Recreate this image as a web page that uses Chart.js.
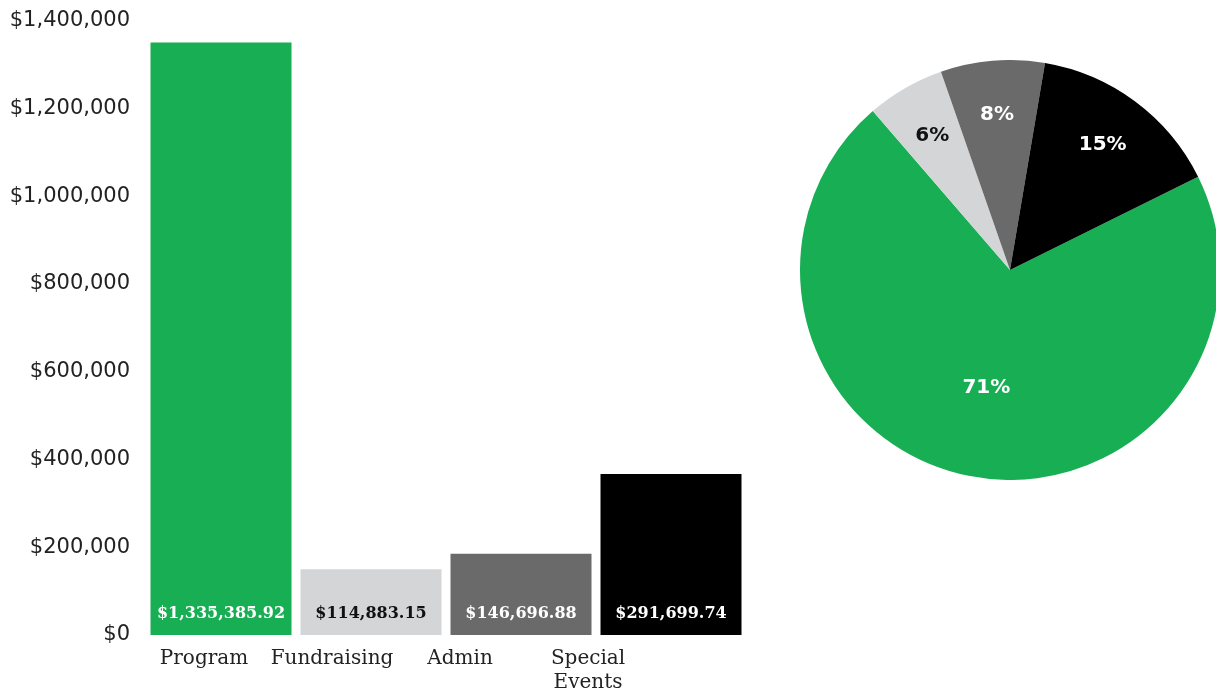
<!DOCTYPE html>
<html>
<head>
<meta charset="utf-8">
<title>Expenses</title>
<script src="https://cdn.jsdelivr.net/npm/chart.js@4/dist/chart.umd.min.js"></script>
<style>
  html, body {
    margin: 0;
    padding: 0;
    background: #ffffff;
    overflow: hidden;
  }
  .page {
    position: relative;
    width: 1216px;
    height: 696px;
  }
  #barBox {
    position: absolute;
    left: 0;
    top: 0;
    width: 748px;
    height: 696px;
  }
  #pieBox {
    position: absolute;
    left: 800px;
    top: 60px;
    width: 420px;
    height: 420px;
  }
</style>
</head>
<body>
<div class="page">
  <div id="barBox"><canvas id="barChart"></canvas></div>
  <div id="pieBox"><canvas id="pieChart"></canvas></div>
</div>

<script>
//Data for the charts
const categories = ["Program", "Fundraising", "Admin", ["Special", "Events"]];
const barHeights = [1350000, 150000, 185000, 367000];
const amountLabels = ["$1,335,385.92", "$114,883.15", "$146,696.88", "$291,699.74"];
const yTickLabels = ["$0", "$200,000", "$400,000", "$600,000", "$800,000", "$1,000,000", "$1,200,000", "$1,400,000"];
const piePercents = [71, 6, 8, 15];

//Colours per category
const colors = ["#17ae54", "#d3d5d7", "#6a6a6a", "#000000"];
const labelColors = ["#ffffff", "#111111", "#ffffff", "#ffffff"];

//Writes the dollar amounts near the bottom of each bar
const barLabels = {
  id: "barLabels",
  afterDatasetsDraw(chart) {
    let ctx = chart.ctx;
    let meta = chart.getDatasetMeta(0);
    ctx.save();
    ctx.font = "bold 16px 'DejaVu Serif'";
    ctx.textAlign = "center";
    ctx.textBaseline = "middle";
    meta.data.forEach(function (bar, i) {
      ctx.fillStyle = labelColors[i];
      ctx.fillText(amountLabels[i], bar.x, bar.base - 21);
    });
    ctx.restore();
  },
};

//Writes the percentages inside the slices
const pieLabels = {
  id: "pieLabels",
  afterDatasetsDraw(chart) {
    let ctx = chart.ctx;
    let meta = chart.getDatasetMeta(0);
    ctx.save();
    ctx.font = "bold 20px 'DejaVu Sans'";
    ctx.textAlign = "center";
    ctx.textBaseline = "middle";
    meta.data.forEach(function (arc, i) {
      let mid = (arc.startAngle + arc.endAngle) / 2;
      let r = arc.outerRadius * (piePercents[i] > 50 ? 0.57 : 0.74);
      ctx.fillStyle = labelColors[i];
      ctx.fillText(piePercents[i] + "%", arc.x + Math.cos(mid) * r, arc.y + Math.sin(mid) * r);
    });
    ctx.restore();
  },
};

//Bar chart
new Chart(document.getElementById("barChart"), {
  type: "bar",
  data: {
    labels: categories,
    datasets: [
      {
        data: barHeights,
        backgroundColor: colors,
        borderWidth: 0,
        barPercentage: 1,
        categoryPercentage: 0.94,
      },
    ],
  },
  options: {
    responsive: true,
    maintainAspectRatio: false,
    animation: false,
    layout: { padding: { top: 0, right: 2 } },
    plugins: {
      legend: { display: false },
      tooltip: { enabled: false },
    },
    scales: {
      x: {
        display: false,
      },
      //the names under the bars sit a bit closer together than the bars
      names: {
        type: "linear",
        position: "bottom",
        offset: false,
        bounds: "data",
        min: -0.453,
        max: 4.234,
        grid: { display: false, drawTicks: false, offset: false },
        border: { display: false },
        afterBuildTicks: function (scale) {
          scale.ticks = categories.map(function (c, i) {
            return { value: i };
          });
        },
        ticks: {
          color: "#222222",
          padding: 12,
          font: { family: "'DejaVu Serif'", size: 20 },
          maxRotation: 0,
          autoSkip: false,
          callback: function (value) {
            return categories[value];
          },
        },
        afterFit: function (scale) {
          scale.height = 61;
        },
      },
      y: {
        min: 0,
        max: 1400000,
        grid: { display: false, drawTicks: false },
        border: { display: false },
        ticks: {
          stepSize: 200000,
          color: "#222222",
          padding: 16,
          font: { family: "'DejaVu Sans'", size: 21 },
          callback: function (value, index) {
            return yTickLabels[index];
          },
        },
        afterFit: function (scale) {
          scale.width = 146;
          scale.paddingTop = 20.5;
          scale.paddingBottom = 0;
        },
      },
    },
  },
  plugins: [barLabels],
});

//Pie chart
new Chart(document.getElementById("pieChart"), {
  type: "pie",
  data: {
    labels: categories,
    datasets: [
      {
        data: piePercents,
        backgroundColor: colors,
        borderWidth: 0,
      },
    ],
  },
  options: {
    responsive: true,
    maintainAspectRatio: false,
    animation: false,
    rotation: 63.6,
    plugins: {
      legend: { display: false },
      tooltip: { enabled: false },
    },
  },
  plugins: [pieLabels],
});
</script>
</body>
</html>
